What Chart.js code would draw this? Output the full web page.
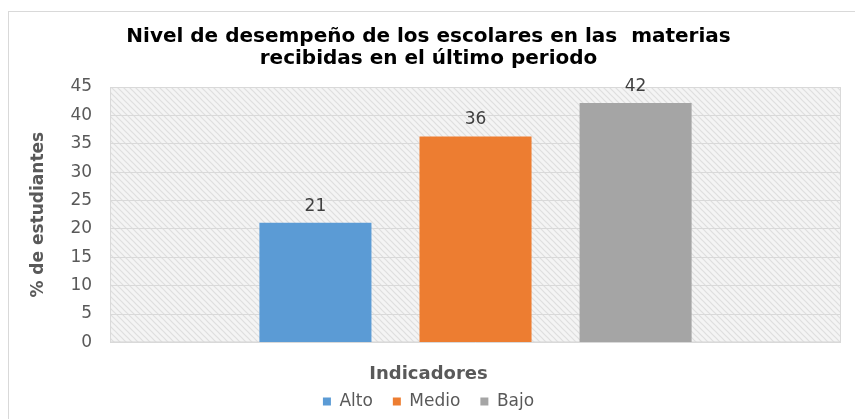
<!DOCTYPE html>
<html>
<head>
<meta charset="utf-8">
<script src="https://cdn.jsdelivr.net/npm/chart.js@4"></script>
<style>
  body { margin: 0; background: #fff; }
  #wrap { position: relative; width: 855px; height: 419px; }
  #frame { position: absolute; left: 8px; top: 11px; width: 850px; height: 420px; border: 1px solid #d9d9d9; box-sizing: border-box; pointer-events: none; }
</style>
</head>
<body>
<div id="wrap">
  <canvas id="myChart"></canvas>
  <div id="frame"></div>
</div>
<script>
const categories = [''];
const seriesNames = ['Alto', 'Medio', 'Bajo'];
const seriesValues = [21.1, 36.3, 42.2];
const seriesColors = ['#5B9BD5', '#ED7D31', '#A5A5A5'];
const yTicks = [0, 5, 10, 15, 20, 25, 30, 35, 40, 45];

const FONT = "'DejaVu Sans', Verdana, sans-serif";

// light diagonal hatch used in the plot area
function makeHatch(ctx) {
	const c = document.createElement('canvas');
	c.width = 6;
	c.height = 6;
	const p = c.getContext('2d');
	p.fillStyle = '#f4f4f4';
	p.fillRect(0, 0, 6, 6);
	p.strokeStyle = '#dedede';
	p.lineWidth = 1.2;
	p.beginPath();
	p.moveTo(-1, -1); p.lineTo(7, 7);
	p.moveTo(-4, 2); p.lineTo(4, 10);
	p.moveTo(2, -4); p.lineTo(10, 4);
	p.stroke();
	return ctx.createPattern(c, 'repeat');
}

const plotBackground = {
	id: 'plotBackground',
	beforeDraw(chart) {
		const {ctx, chartArea: a} = chart;
		ctx.save();
		ctx.fillStyle = makeHatch(ctx);
		ctx.fillRect(a.left, a.top, a.right - a.left, a.bottom - a.top);
		ctx.restore();
	},
	beforeDatasetsDraw(chart) {
		const {ctx, chartArea: a} = chart;
		ctx.save();
		ctx.strokeStyle = '#d9d9d9';
		ctx.lineWidth = 1;
		ctx.strokeRect(a.left + 0.5, a.top + 0.5, a.right - a.left - 1, a.bottom - a.top - 1);
		ctx.restore();
	}
};

const valueLabels = {
	id: 'valueLabels',
	afterDatasetsDraw(chart) {
		const ctx = chart.ctx;
		ctx.save();
		ctx.font = '17px ' + FONT;
		ctx.fillStyle = '#404040';
		ctx.textAlign = 'center';
		ctx.textBaseline = 'bottom';
		chart.data.datasets.forEach((ds, i) => {
			const meta = chart.getDatasetMeta(i);
			meta.data.forEach((bar, j) => {
				ctx.fillText(Math.round(ds.data[j]), bar.x, bar.y - 8);
			});
		});
		ctx.restore();
	}
};

const datasets = seriesNames.map((name, i) => ({
	label: name,
	data: [seriesValues[i]],
	backgroundColor: seriesColors[i],
	borderWidth: 0,
	categoryPercentage: 0.657,
	barPercentage: 0.7
}));

const ctx = document.querySelector('#myChart');
const chart = new Chart(ctx, {
	type: 'bar',
	data: {
		labels: categories,
		datasets: datasets
	},
	options: {
		responsive: true,
		maintainAspectRatio: false,
		animation: false,
		layout: {
			padding: { left: 16, right: 14, top: 14, bottom: -1 }
		},
		plugins: {
			title: {
				display: true,
				text: ['Nivel de desempeño de los escolares en las  materias', 'recibidas en el último periodo'],
				color: '#000000',
				font: { family: FONT, size: 20, weight: 'bold', lineHeight: 1.1 },
				padding: { top: 12, bottom: 17 }
			},
			subtitle: {
				display: true,
				position: 'bottom',
				weight: 500,
				text: 'Indicadores',
				color: '#595959',
				font: { family: FONT, size: 18, weight: 'bold' },
				padding: { top: 21, bottom: -12 }
			},
			legend: {
				position: 'bottom',
				labels: {
					color: '#595959',
					font: { family: FONT, size: 17 },
					boxWidth: 8,
					boxHeight: 8,
					padding: 20
				}
			},
			tooltip: { enabled: false }
		},
		scales: {
			x: {
				display: false
			},
			y: {
				min: 0,
				max: 45,
				afterBuildTicks: (axis) => {
					axis.ticks = yTicks.map(v => ({ value: v }));
				},
				ticks: {
					color: '#595959',
					font: { family: FONT, size: 17 },
					padding: 18
				},
				grid: {
					color: '#d9d9d9',
					drawTicks: false
				},
				border: { display: false },
				title: {
					display: true,
					text: '% de estudiantes',
					color: '#595959',
					font: { family: FONT, size: 17, weight: 'bold' },
					padding: { top: 12, bottom: 4 }
				}
			}
		}
	},
	plugins: [plotBackground, valueLabels]
});
</script>
</body>
</html>
